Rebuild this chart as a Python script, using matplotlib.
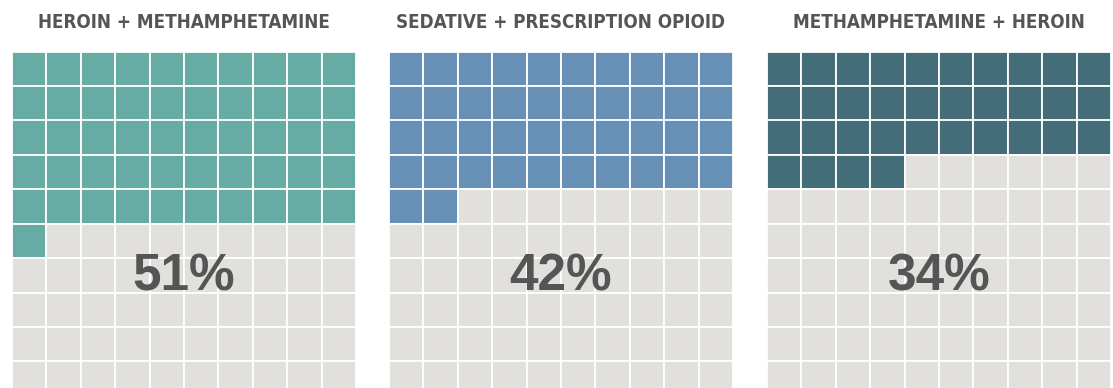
import matplotlib.pyplot as plt
from matplotlib.patches import Rectangle

titles = ['HEROIN + METHAMPHETAMINE', 'SEDATIVE + PRESCRIPTION OPIOID', 'METHAMPHETAMINE + HEROIN']
percents = [51, 42, 34]
colors = ['#66ACA5', '#6690B5', '#436D78']
empty = '#E1E0DD'

W, H = 1113, 388
fig = plt.figure(figsize=(W / 100, H / 100), dpi=100)
lefts = [12, 389, 767]
cell = 34.4
top = 51.7

for left, title, pct, col in zip(lefts, titles, percents, colors):
    ax = fig.add_axes([left / W, 1 - (top + 10 * cell) / H, 10 * cell / W, 10 * cell / H])
    for i in range(100):
        r, c = divmod(i, 10)
        fc = col if i < pct else empty
        ax.add_patch(Rectangle((c, 9 - r), 1, 1, facecolor=fc, edgecolor='white', lw=1.3))
    ax.set_xlim(0, 10)
    ax.set_ylim(0, 10)
    ax.axis('off')
    ax.text(5, 3.45, f'{pct}%', ha='center', va='center', fontsize=37, fontweight='bold',
            color='#555555', family=['Liberation Sans', 'DejaVu Sans'])
    fig.text((left + 5 * cell) / W, 1 - 23 / H, title, ha='center', va='center', fontsize=13.5,
             fontweight='bold', fontstretch='condensed', color='#555555',
             family=['DejaVu Sans'])

fig.savefig('out.png', dpi=100)
